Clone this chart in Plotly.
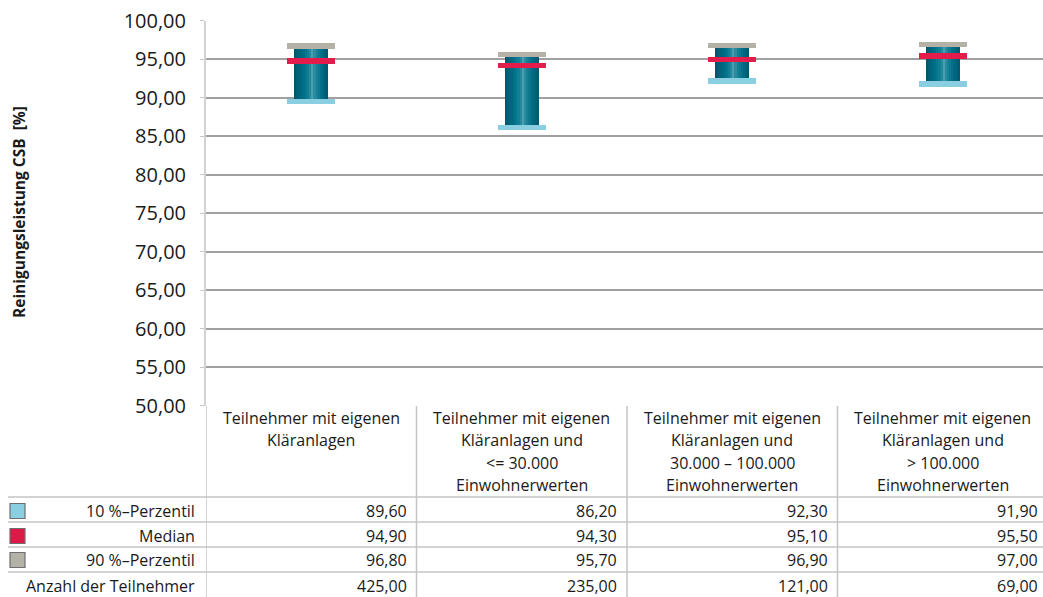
import plotly.graph_objects as go

categories = [
    ["Teilnehmer mit eigenen", "Kläranlagen"],
    ["Teilnehmer mit eigenen", "Kläranlagen und", "<= 30.000", "Einwohnerwerten"],
    ["Teilnehmer mit eigenen", "Kläranlagen und", "30.000 – 100.000", "Einwohnerwerten"],
    ["Teilnehmer mit eigenen", "Kläranlagen und", "> 100.000", "Einwohnerwerten"],
]
p10 = [89.60, 86.20, 92.30, 91.90]
median = [94.90, 94.30, 95.10, 95.50]
p90 = [96.80, 95.70, 96.90, 97.00]
anzahl = [425.00, 235.00, 121.00, 69.00]

row_labels = ["10 %–Perzentil", "Median", "90 %–Perzentil", "Anzahl der Teilnehmer"]
row_values = [p10, median, p90, anzahl]
row_colors = ["#8acfe1", "#dc1a48", "#b4b2a6", None]

W, H = 1043, 597
FONT = "Open Sans"
TXT = "#1a1a1a"
GRID = "#a0a0a0"
TBL = "#c4c4c4"

def px(xp):
    return xp / W

def py(yp):
    return 1 - yp / H

x = list(range(len(categories)))

fig = go.Figure()

def hex2rgb(h):
    h = h.lstrip("#")
    return tuple(int(h[i:i + 2], 16) for i in (0, 2, 4))

stops = [(0.0, "#00556c"), (0.3, "#00718a"), (0.45, "#18839a"), (0.53, "#4f9dad"),
         (0.62, "#1b859a"), (0.82, "#006b83"), (1.0, "#00556c")]

def grad(t):
    for (t0, c0), (t1, c1) in zip(stops[:-1], stops[1:]):
        if t0 <= t <= t1:
            f = (t - t0) / (t1 - t0)
            a, b = hex2rgb(c0), hex2rgb(c1)
            return "rgb(%d,%d,%d)" % tuple(round(a[i] + (b[i] - a[i]) * f) for i in range(3))
    return stops[-1][1]

body_w = 0.162
n_strips = 16
sw = body_w / n_strips
heights = [b - a for a, b in zip(p10, p90)]
for k in range(n_strips):
    t = (k + 0.5) / n_strips
    fig.add_trace(go.Bar(
        x=x, y=heights, base=p10,
        width=sw * 1.08, offset=-body_w / 2 + k * sw,
        marker=dict(color=grad(t), line=dict(width=0)),
        showlegend=False, hoverinfo="skip",
    ))

cap_w = 0.23
cap_h = 0.7
for vals, col, name in [(p10, "#8acfe1", "10 %-Perzentil"),
                        (p90, "#b4b2a6", "90 %-Perzentil"),
                        (median, "#e31c4c", "Median")]:
    fig.add_trace(go.Bar(
        x=x, y=[cap_h] * len(vals), base=[v - cap_h * 0.6 for v in vals],
        width=cap_w, marker=dict(color=col, line=dict(width=0)),
        name=name, showlegend=False,
    ))

shapes = []
annotations = []

annotations.append(dict(
    x=px(19), y=py(212), xref="paper", yref="paper",
    text="<b>Reinigungsleistung CSB  [%]</b>", textangle=-90, showarrow=False,
    font=dict(family=FONT, size=15.5, color=TXT), xanchor="center", yanchor="middle",
))

for b in [-0.5, 0.5, 1.5, 2.5]:
    shapes.append(dict(type="line", xref="x", yref="paper", x0=b, x1=b,
                       y0=py(406), y1=py(600), line=dict(color=TBL, width=1.5)))
for yl in [497, 522, 547, 572]:
    shapes.append(dict(type="line", xref="paper", yref="paper", x0=px(8), x1=1,
                       y0=py(yl), y1=py(yl), line=dict(color=TBL, width=1.5)))

line_y = [418, 440, 463, 485]
for i, lines in enumerate(categories):
    for j, ln in enumerate(lines):
        annotations.append(dict(
            x=i, y=py(line_y[j]), xref="x", yref="paper", text=ln.replace("<", "&lt;"),
            showarrow=False, xanchor="center", yanchor="middle",
            font=dict(family=FONT, size=16, color=TXT),
        ))

row_y = [511, 536, 560, 586]
for r, (lab, vals, col) in enumerate(zip(row_labels, row_values, row_colors)):
    yc = row_y[r]
    annotations.append(dict(
        x=px(197), y=py(yc), xref="paper", yref="paper", text=lab, showarrow=False,
        xanchor="right", yanchor="middle", font=dict(family=FONT, size=16, color=TXT),
    ))
    if col:
        shapes.append(dict(type="rect", xref="paper", yref="paper",
                           x0=px(10), x1=px(25), y0=py(yc + 7.5), y1=py(yc - 7.5),
                           fillcolor=col, line=dict(color="#6e6e6e", width=1.2)))
    for i, v in enumerate(vals):
        annotations.append(dict(
            x=i + 0.5 - 0.036, y=py(yc), xref="x", yref="paper",
            text=f"{v:.2f}".replace(".", ","), showarrow=False,
            xanchor="right", yanchor="middle", font=dict(family=FONT, size=16, color=TXT),
        ))

fig.update_layout(
    width=W, height=H,
    margin=dict(l=0, r=0, t=0, b=0, autoexpand=False),
    paper_bgcolor="white", plot_bgcolor="white",
    barmode="overlay", bargap=0,
    separators=",.",
    showlegend=False,
    xaxis=dict(domain=[px(206), 1], range=[-0.5, -0.5 + (W - 206) / 210.5],
               showticklabels=False, showgrid=False, zeroline=False, showline=False,
               fixedrange=True, automargin=False),
    yaxis=dict(domain=[py(405.5), py(20.5)], range=[50, 100], dtick=5,
               tickformat=".2f", showgrid=True, gridcolor=GRID, gridwidth=1.5,
               zeroline=False, showline=True, linecolor="#d2d2d2", linewidth=2,
               ticks="outside", ticklen=4, tickcolor="#c8c8c8", automargin=False,
               tickfont=dict(family=FONT, size=20, color=TXT), ticklabelstandoff=10),
    shapes=shapes,
    annotations=annotations,
)

fig.write_html("out.html", config={"displayModeBar": False},
               post_script="document.body.style.margin='0px';")
